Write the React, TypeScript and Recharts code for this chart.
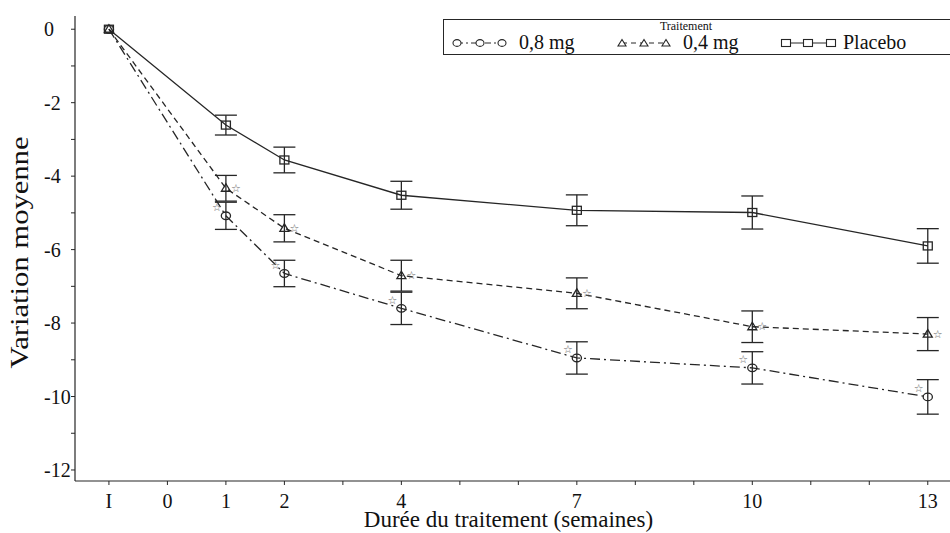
import React from 'react';
import { ComposedChart, Line, XAxis, YAxis, ErrorBar, Legend } from 'recharts';

// ---- data ----
const weeks = [-1, 1, 2, 4, 7, 10, 13];
const mg08 = [0, -5.08, -6.65, -7.6, -8.95, -9.22, -10.01];
const mg08Err = [0, 0.37, 0.36, 0.44, 0.44, 0.44, 0.47];
const mg08Star = [false, true, true, true, true, true, true];
const mg04 = [0, -4.33, -5.42, -6.71, -7.19, -8.1, -8.3];
const mg04Err = [0, 0.35, 0.37, 0.42, 0.42, 0.43, 0.45];
const mg04Star = [false, true, true, true, true, true, true];
const placebo = [0, -2.61, -3.56, -4.52, -4.93, -4.99, -5.9];
const placeboErr = [0, 0.27, 0.35, 0.38, 0.42, 0.45, 0.47];

const xTicks = [-1, 0, 1, 2, 3, 4, 5, 6, 7, 8, 9, 10, 11, 12, 13];
const xLabelValues = [-1, 0, 1, 2, 4, 7, 10, 13];
const xLabels = ['I', '0', '1', '2', '4', '7', '10', '13'];
const yTicks = [-12, -11, -10, -9, -8, -7, -6, -5, -4, -3, -2, -1, 0];
const yLabelValues = [-12, -10, -8, -6, -4, -2, 0];
const seriesNames = ['0,8 mg', '0,4 mg', 'Placebo'];
const legendTitle = 'Traitement';
const xTitle = 'Durée du traitement (semaines)';
const yTitle = 'Variation moyenne';

const data = weeks.map((w, i) => ({
  week: w,
  mg08: mg08[i],
  mg08Err: mg08Err[i],
  mg08Star: mg08Star[i],
  mg04: mg04[i],
  mg04Err: mg04Err[i],
  mg04Star: mg04Star[i],
  placebo: placebo[i],
  placeboErr: placeboErr[i],
}));

const FONT = '"Liberation Serif", "DejaVu Serif", serif';
const INK = '#262626';
const xDomain = [-1.58, 13.38];
const yDomain = [-12.3, 0.36];

const XTick = (props: any) => {
  const { x, y, payload } = props;
  const idx = xLabelValues.indexOf(payload.value);
  if (idx < 0) return null;
  return (
    <text x={x} y={y + 21} textAnchor="middle" fontFamily={FONT} fontSize={20} fill="#111">
      {xLabels[idx]}
    </text>
  );
};

const YTick = (props: any) => {
  const { x, y, payload } = props;
  if (yLabelValues.indexOf(payload.value) < 0) return null;
  return (
    <text x={x - 25} y={y} textAnchor="start" dominantBaseline="central" fontFamily={FONT} fontSize={20} fill="#111">
      {String(payload.value)}
    </text>
  );
};

const Star = ({ x, y }: { x: number; y: number }) => (
  <text x={x} y={y} textAnchor="middle" dominantBaseline="central" fontFamily='"DejaVu Sans", sans-serif' fontSize={11} fill="#6a6a6a">
    ☆
  </text>
);

const CircleDot = (props: any) => {
  const { cx, cy, payload } = props;
  if (cx == null || cy == null) return null;
  return (
    <g>
      <ellipse cx={cx} cy={cy} rx={4.6} ry={3.8} fill="none" stroke={INK} strokeWidth={1.3} />
      {payload.mg08Star ? <Star x={cx - 9} y={cy - 8} /> : null}
    </g>
  );
};

const TriangleDot = (props: any) => {
  const { cx, cy, payload } = props;
  if (cx == null || cy == null) return null;
  return (
    <g>
      <polygon points={`${cx - 4.5},${cy + 3} ${cx + 4.5},${cy + 3} ${cx},${cy - 4.5}`} fill="none" stroke={INK} strokeWidth={1.3} />
      {payload.mg04Star ? <Star x={cx + 10} y={cy} /> : null}
    </g>
  );
};

const SquareDot = (props: any) => {
  const { cx, cy } = props;
  if (cx == null || cy == null) return null;
  return <rect x={cx - 4.5} y={cy - 4} width={9} height={8} fill="none" stroke={INK} strokeWidth={1.3} />;
};

const LegendContent = () => {
  const W = 507;
  const H = 36;
  const cy = 24;
  const groups = [
    { xs: [14, 37, 59], text: 76, kind: 'circle', dash: '6 3 2 3' },
    { xs: [179, 201, 223], text: 240, kind: 'triangle', dash: '5 4' },
    { xs: [343, 365, 388], text: 400, kind: 'square', dash: undefined as any },
  ];
  return (
    <svg width={W} height={H} style={{ display: 'block', overflow: 'visible' }}>
      <line x1={0} y1={0.5} x2={W} y2={0.5} stroke={INK} strokeWidth={1} />
      <line x1={0.5} y1={0} x2={0.5} y2={H} stroke={INK} strokeWidth={1} />
      <line x1={0} y1={H - 0.5} x2={W} y2={H - 0.5} stroke={INK} strokeWidth={1} />
      <text x={243} y={7} textAnchor="middle" dominantBaseline="central" fontFamily={FONT} fontSize={12} fill="#111">
        {legendTitle}
      </text>
      {groups.map((g, gi) => (
        <g key={gi}>
          <line x1={g.xs[0]} y1={cy} x2={g.xs[2]} y2={cy} stroke={INK} strokeWidth={1} strokeDasharray={g.dash} />
          {g.xs.map((x, k) =>
            g.kind === 'circle' ? (
              <ellipse key={k} cx={x} cy={cy} rx={4} ry={3.4} fill="#fff" stroke={INK} strokeWidth={1.1} />
            ) : g.kind === 'triangle' ? (
              <polygon key={k} points={`${x - 4},${cy + 3} ${x + 4},${cy + 3} ${x},${cy - 3.5}`} fill="#fff" stroke={INK} strokeWidth={1.1} />
            ) : (
              <rect key={k} x={x - 4.5} y={cy - 3.5} width={9} height={7} fill="#fff" stroke={INK} strokeWidth={1.1} />
            )
          )}
          <text x={g.text} y={cy + 6} fontFamily={FONT} fontSize={20} fill="#111">
            {seriesNames[gi]}
          </text>
        </g>
      ))}
    </svg>
  );
};

const XTitle = (props: any) => {
  const { viewBox } = props;
  return (
    <text x={viewBox.x + viewBox.width / 2 - 4} y={viewBox.y + 46} textAnchor="middle" fontFamily={FONT} fontSize={23} fill="#111">
      {xTitle}
    </text>
  );
};

const YTitle = (props: any) => {
  const { viewBox } = props;
  const cx = 19;
  const cy = viewBox.y + viewBox.height / 2 + 4;
  return (
    <text
      transform={`translate(${cx},${cy}) rotate(-90)`}
      textAnchor="middle"
      dominantBaseline="central"
      fontFamily={FONT}
      fontSize={25}
      textLength={232}
      lengthAdjust="spacingAndGlyphs"
      fill="#111"
    >
      {yTitle}
    </text>
  );
};

export default function App() {
  return (
    <div style={{ position: 'absolute', left: 0, top: 0, width: 950, height: 533, background: '#fff', overflow: 'hidden' }}>
      <ComposedChart width={950} height={533} data={data} margin={{ top: 16, right: 0, bottom: 0, left: 15 }}>
        <XAxis
          xAxisId="top"
          orientation="top"
          type="number"
          domain={xDomain}
          height={0}
          tick={false}
          tickLine={false}
          axisLine={{ stroke: INK, strokeWidth: 1.2 }}
          allowDataOverflow
        />
        <XAxis
          dataKey="week"
          type="number"
          domain={xDomain}
          ticks={xTicks}
          interval={0}
          height={52}
          tickSize={4}
          tick={XTick}
          tickLine={{ stroke: INK }}
          axisLine={{ stroke: INK, strokeWidth: 1.2 }}
          label={<XTitle />}
          allowDataOverflow
        />
        <YAxis
          type="number"
          domain={yDomain}
          ticks={yTicks}
          interval={0}
          width={60}
          tickSize={4}
          tick={YTick}
          tickLine={{ stroke: INK }}
          axisLine={{ stroke: INK, strokeWidth: 1.2 }}
          label={<YTitle />}
          allowDataOverflow
        />
        <Legend
          content={<LegendContent />}
          layout="horizontal"
          verticalAlign="middle"
          align="center"
          wrapperStyle={{ left: 443, top: 19, width: 507, height: 36 }}
        />
        <Line
          dataKey="placebo"
          name={seriesNames[2]}
          stroke={INK}
          strokeWidth={1.3}
          dot={<SquareDot />}
          activeDot={false}
          isAnimationActive={false}
        >
          <ErrorBar dataKey="placeboErr" width={11} stroke={INK} strokeWidth={1.3} direction="y" />
        </Line>
        <Line
          dataKey="mg04"
          name={seriesNames[1]}
          stroke={INK}
          strokeWidth={1.3}
          strokeDasharray="6 4"
          dot={<TriangleDot />}
          activeDot={false}
          isAnimationActive={false}
        >
          <ErrorBar dataKey="mg04Err" width={11} stroke={INK} strokeWidth={1.3} direction="y" />
        </Line>
        <Line
          dataKey="mg08"
          name={seriesNames[0]}
          stroke={INK}
          strokeWidth={1.3}
          strokeDasharray="10 4 2 4"
          dot={<CircleDot />}
          activeDot={false}
          isAnimationActive={false}
        >
          <ErrorBar dataKey="mg08Err" width={11} stroke={INK} strokeWidth={1.3} direction="y" />
        </Line>
      </ComposedChart>
    </div>
  );
}
